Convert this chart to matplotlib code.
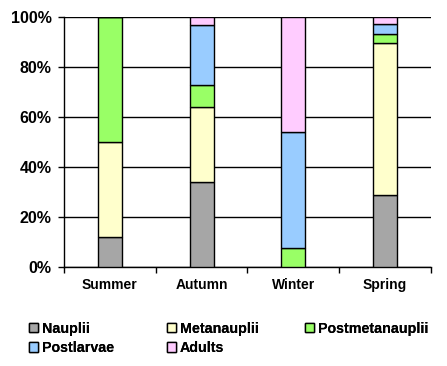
import matplotlib
matplotlib.use("Agg")
import matplotlib.pyplot as plt
import numpy as np
from matplotlib.ticker import FixedLocator, FuncFormatter

plt.rcParams['font.family'] = ['Liberation Sans', 'DejaVu Sans']
plt.rcParams['font.weight'] = 'bold'

seasons = ["Summer", "Autumn", "Winter", "Spring"]
series_names = ["Nauplii", "Metanauplii", "Postmetanauplii", "Postlarvae", "Adults"]
nauplii = [12.3, 34.0, 0.0, 28.8]
metanauplii = [37.7, 30.2, 0.0, 60.8]
postmetanauplii = [50.0, 8.6, 7.6, 3.7]
postlarvae = [0.0, 24.0, 46.4, 3.9]
adults = [0.0, 3.2, 46.0, 2.8]
colors = ["#A6A6A6", "#FFFFCC", "#99FF66", "#99CCFF", "#FFCCFF"]

fig = plt.figure(figsize=(4.47, 3.66), dpi=100)
ax = fig.add_axes([64/447, (366-267.3)/366, 367/447, 250/366])

data = [nauplii, metanauplii, postmetanauplii, postlarvae, adults]
x = np.arange(len(seasons))
bottom = np.zeros(len(seasons))
handles = []
for name, vals, c in zip(series_names, data, colors):
    vals = np.array(vals, dtype=float)
    b = ax.bar(x, vals, width=0.26, bottom=bottom, color=c, edgecolor='black',
               linewidth=1.0, label=name, zorder=3)
    handles.append(b)
    bottom += vals

ax.set_xlim(-0.5, len(seasons) - 0.5)
ax.set_ylim(0, 100)
ax.set_yticks([0, 20, 40, 60, 80, 100])
ax.yaxis.set_major_formatter(FuncFormatter(lambda v, p: f"{int(v)}%"))
ax.yaxis.grid(True, color='black', linewidth=1.0, zorder=0)
ax.set_axisbelow(True)
ax.set_xticks(x)
ax.set_xticklabels(seasons, fontsize=10, fontweight='bold')
ax.tick_params(axis='x', which='major', length=0, pad=7.5)
ax.xaxis.set_minor_locator(FixedLocator(np.arange(-0.5, len(seasons), 1.0)))
ax.tick_params(axis='x', which='minor', length=4, width=1, direction='out')
ax.tick_params(axis='y', labelsize=11.5, length=4, width=1, direction='out', pad=5)
for lab in ax.get_yticklabels():
    lab.set_fontweight('bold')
for s in ['top', 'right']:
    ax.spines[s].set_visible(False)
for s in ['left', 'bottom']:
    ax.spines[s].set_linewidth(1.0)
    ax.spines[s].set_color('black')

# legend laid out row-major in three columns
cols = [[0, 3], [1, 4], [2]]
col_x = [29/447, 167/447, 305/447]
for idxs, cx in zip(cols, col_x):
    lg = fig.legend(handles=[handles[i] for i in idxs],
                    labels=[series_names[i] for i in idxs],
                    loc='upper left', bbox_to_anchor=(cx, 1 - 322/366),
                    frameon=False, prop={'size': 10.3, 'weight': 'bold'},
                    handlelength=0.6, handleheight=0.6, handletextpad=0.3,
                    labelspacing=0.35, borderaxespad=0, borderpad=0)
    fig.add_artist(lg)

fig.savefig("out.png", dpi=100)
